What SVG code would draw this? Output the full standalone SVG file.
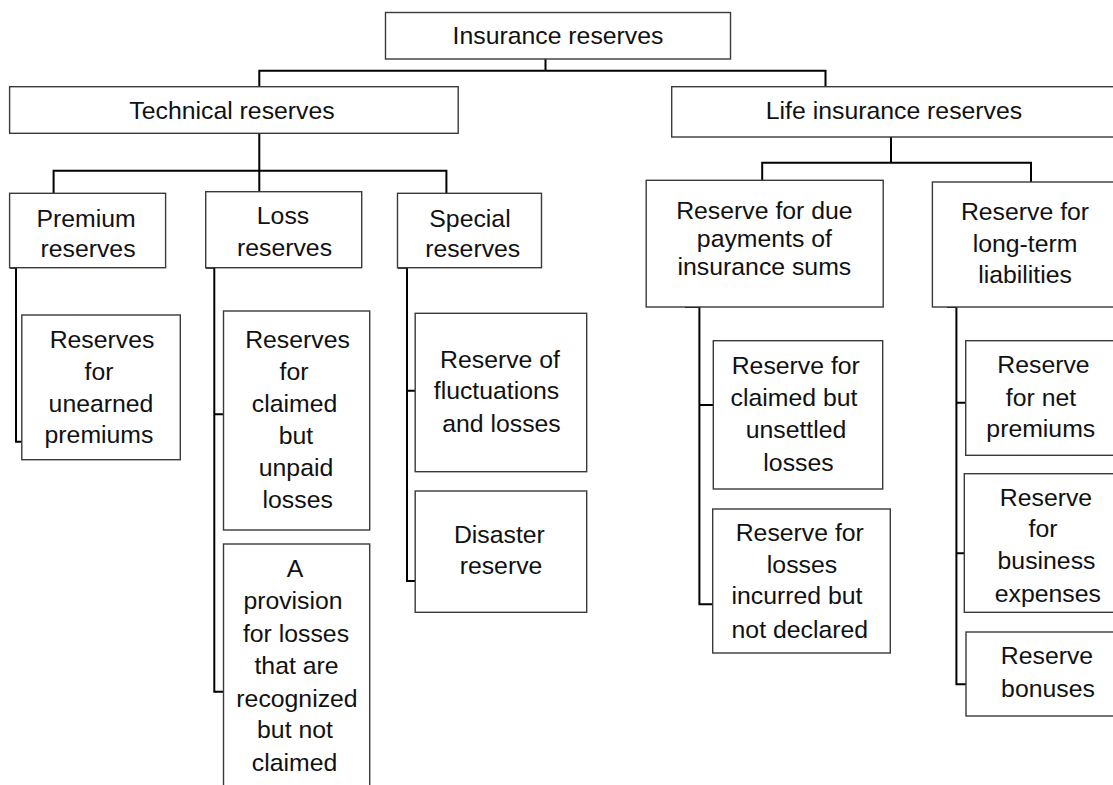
<svg xmlns="http://www.w3.org/2000/svg" width="1113" height="785" viewBox="0 0 1113 785">
<style>
.box{fill:#fff;stroke:#3a3a3a;stroke-width:1.4}
.t{font-family:"Liberation Sans",Arial,sans-serif;font-size:24.8px;fill:#111;text-anchor:middle}
.c{fill:none;stroke:#000;stroke-width:2}
</style>
<rect width="1113" height="785" fill="#fff"/>
<g id="connectors">
<path class="c" d="M545.5,59 V70.7 M259.3,86.7 V70.7 H825.5 V86.7"/>
<path class="c" d="M259.3,133.3 V191.7 M53.6,193.3 V170.7 H446.4 V193.3"/>
<path class="c" d="M891,137 V162.7 M762.2,181.7 V162.7 H1031 V182.7"/>
<path class="c" d="M10,267.7 H16 V441.7 H22"/>
<path class="c" d="M206,267.7 H214.3 V691.7 H223.5 M214.3,414.3 H223.5"/>
<path class="c" d="M398,267.7 H407 V581 H415 M407,390.7 H415"/>
<path class="c" d="M685,307 H699.4 V604.3 H713 M699.4,405 H713.3"/>
<path class="c" d="M947,307 H956.4 V684.3 H966 M956.4,402.7 H965.7 M956.4,553.3 H964.3"/>
</g>
<g id="root"><rect class="box" x="385.5" y="12.5" width="345" height="46.5"/><text class="t" x="558" y="44.3">Insurance reserves</text></g>
<g id="technical"><rect class="box" x="9.6" y="86.7" width="448.6" height="46.6"/><text class="t" x="232" y="119">Technical reserves</text></g>
<g id="life"><rect class="box" x="671.7" y="86.7" width="460" height="50.3"/><text class="t" x="894" y="119">Life insurance reserves</text></g>
<g id="premium"><rect class="box" x="9.6" y="193.3" width="156" height="74.4"/><text class="t"><tspan x="86" y="226.7">Premium</tspan><tspan x="88" y="257.3">reserves</tspan></text></g>
<g id="loss"><rect class="box" x="205.7" y="191.7" width="156" height="76"/><text class="t"><tspan x="283" y="224">Loss</tspan><tspan x="284.5" y="255.7">reserves</tspan></text></g>
<g id="special"><rect class="box" x="397.5" y="193.3" width="144" height="74.4"/><text class="t"><tspan x="470" y="226.7">Special</tspan><tspan x="472.7" y="257.3">reserves</tspan></text></g>
<g id="due"><rect class="box" x="646.2" y="180.3" width="237" height="126.7"/><text class="t"><tspan x="764.4" y="219.3">Reserve for due</tspan><tspan x="764.4" y="246.7">payments of</tspan><tspan x="764.4" y="275">insurance sums</tspan></text></g>
<g id="longterm"><rect class="box" x="932.4" y="182" width="200" height="125"/><text class="t"><tspan x="1025" y="220">Reserve for</tspan><tspan x="1025" y="251.7">long-term</tspan><tspan x="1025" y="283.3">liabilities</tspan></text></g>
<g id="unearned"><rect class="box" x="21.8" y="315" width="158.5" height="144.7"/><text class="t"><tspan x="102" y="347.7">Reserves</tspan><tspan x="99" y="380">for</tspan><tspan x="101" y="411.7">unearned</tspan><tspan x="99" y="443.3">premiums</tspan></text></g>
<g id="unpaid"><rect class="box" x="223.5" y="311" width="146.2" height="219"/><text class="t"><tspan x="297.5" y="347.7">Reserves</tspan><tspan x="294" y="380">for</tspan><tspan x="294.5" y="411.7">claimed</tspan><tspan x="296" y="444">but</tspan><tspan x="296" y="475.7">unpaid</tspan><tspan x="297.7" y="508.3">losses</tspan></text></g>
<g id="provision"><rect class="box" x="223.5" y="544" width="146.2" height="260"/><text class="t"><tspan x="295" y="577.3">A</tspan><tspan x="293" y="609.3">provision</tspan><tspan x="296" y="641.7">for losses</tspan><tspan x="296.5" y="674">that are</tspan><tspan x="297" y="706.7">recognized</tspan><tspan x="295" y="738.3">but not</tspan><tspan x="294.5" y="770.7">claimed</tspan></text></g>
<g id="fluctuations"><rect class="box" x="415.2" y="313.3" width="171.5" height="158.4"/><text class="t"><tspan x="500" y="367.7">Reserve of</tspan><tspan x="496.5" y="399.3">fluctuations</tspan><tspan x="501.5" y="431.7">and losses</tspan></text></g>
<g id="disaster"><rect class="box" x="415.2" y="491" width="171.5" height="121.3"/><text class="t"><tspan x="499.4" y="542.7">Disaster</tspan><tspan x="501" y="574">reserve</tspan></text></g>
<g id="unsettled"><rect class="box" x="713.3" y="340.7" width="169.4" height="148.3"/><text class="t"><tspan x="795.8" y="374">Reserve for</tspan><tspan x="794" y="406">claimed but</tspan><tspan x="796" y="437.7">unsettled</tspan><tspan x="798.5" y="470.7">losses</tspan></text></g>
<g id="incurred"><rect class="box" x="712.7" y="509" width="177.6" height="144"/><text class="t"><tspan x="799.8" y="540.7">Reserve for</tspan><tspan x="802" y="572.7">losses</tspan><tspan x="797" y="604.3">incurred but</tspan><tspan x="799.8" y="637.7">not declared</tspan></text></g>
<g id="netpremiums"><rect class="box" x="965.7" y="340.7" width="170" height="114.6"/><text class="t"><tspan x="1043.5" y="373.3">Reserve</tspan><tspan x="1041" y="406">for net</tspan><tspan x="1040.8" y="436.7">premiums</tspan></text></g>
<g id="business"><rect class="box" x="964.3" y="473.7" width="170" height="138.6"/><text class="t"><tspan x="1046" y="505.7">Reserve</tspan><tspan x="1043" y="537.3">for</tspan><tspan x="1046.5" y="569.3">business</tspan><tspan x="1047.8" y="601.7">expenses</tspan></text></g>
<g id="bonuses"><rect class="box" x="966" y="632" width="170" height="84"/><text class="t"><tspan x="1047" y="664.3">Reserve</tspan><tspan x="1048" y="697.3">bonuses</tspan></text></g>
</svg>
